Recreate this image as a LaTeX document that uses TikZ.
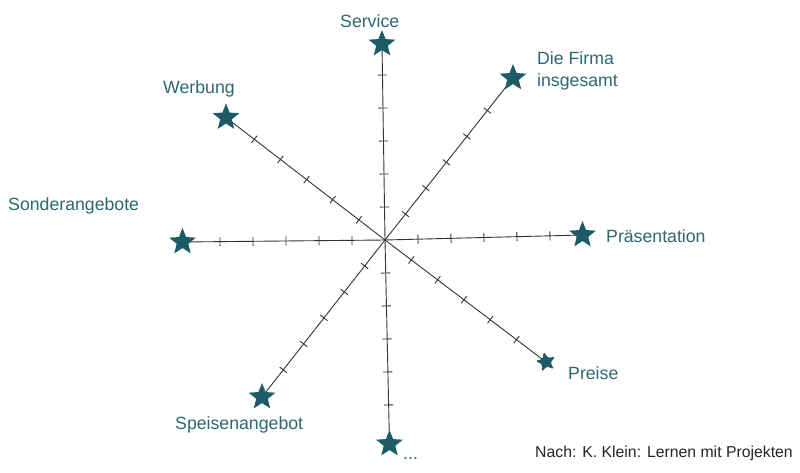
\documentclass[tikz,border=0pt]{standalone}
\usepackage{fontspec}
\setmainfont{Liberation Sans}
\usetikzlibrary{shapes.geometric,calc,backgrounds}
\definecolor{starc}{HTML}{1D5C67}
\definecolor{txtc}{HTML}{2D6870}
\definecolor{axc}{HTML}{333333}
\begin{document}
\begin{tikzpicture}[x=1pt,y=-1pt,
  staricon/.style={star,star points=5,star point ratio=2.3,fill=starc,draw=none,minimum size=28pt,inner sep=0pt},
  lbl/.style={anchor=base west,inner sep=0pt,text=txtc,font=\fontsize{17.7}{21}\selectfont},
  note/.style={anchor=base west,inner sep=0pt,text=black!85,font=\fontsize{15.8}{19}\selectfont},
  axis/.style={draw=axc,line width=0.9pt}]
\useasboundingbox (0,0) rectangle (800,473);
\coordinate (O) at (385,240);
\node[staricon] (s1) at (382,44) {};
\node[staricon] (s2) at (513,78) {};
\node[staricon] (s3) at (582.5,235) {};
\node[staricon,minimum size=21pt,rounded corners=1.5pt,rotate=12] (s4) at (546,362) {};
\node[staricon] (s5) at (389.5,444) {};
\node[staricon] (s6) at (262,397) {};
\node[staricon] (s7) at (182.5,242) {};
\node[staricon] (s8) at (226,117.5) {};
\begin{pgfonlayer}{background}
\fill[white] (0,0) rectangle (800,473);
\foreach \s in {s1,s2,s3,s4,s5,s6,s7,s8} {
  \draw[axis] (O) -- (\s.center);
  \foreach \k in {1,...,5} {
    \coordinate (t) at ($(O)!{\k*33pt}!(\s.center)$);
    \draw[axis] ($(t)!4.5pt!90:(\s.center)$) -- ($(t)!4.5pt!-90:(\s.center)$);
  }
}
\end{pgfonlayer}
\node[lbl] (l1) at (340,28) {Service};
\node[lbl] (l2a) at (537,65) {Die Firma};
\node[lbl] (l2b) at (537,87) {insgesamt};
\node[lbl] (l3) at (606,242) {Präsentation};
\node[lbl] (l4) at (568,379) {Preise};
\node[lbl] (l5) at (403,459) {...};
\node[lbl] (l6) at (175,429) {Speisenangebot};
\node[lbl] (l7) at (8,211) {Sonderangebote};
\node[lbl] (l8) at (163,94) {Werbung};
\node[note] (src) at (535,457) {Nach: K. Klein: Lernen mit Projekten};
\end{tikzpicture}
\end{document}
